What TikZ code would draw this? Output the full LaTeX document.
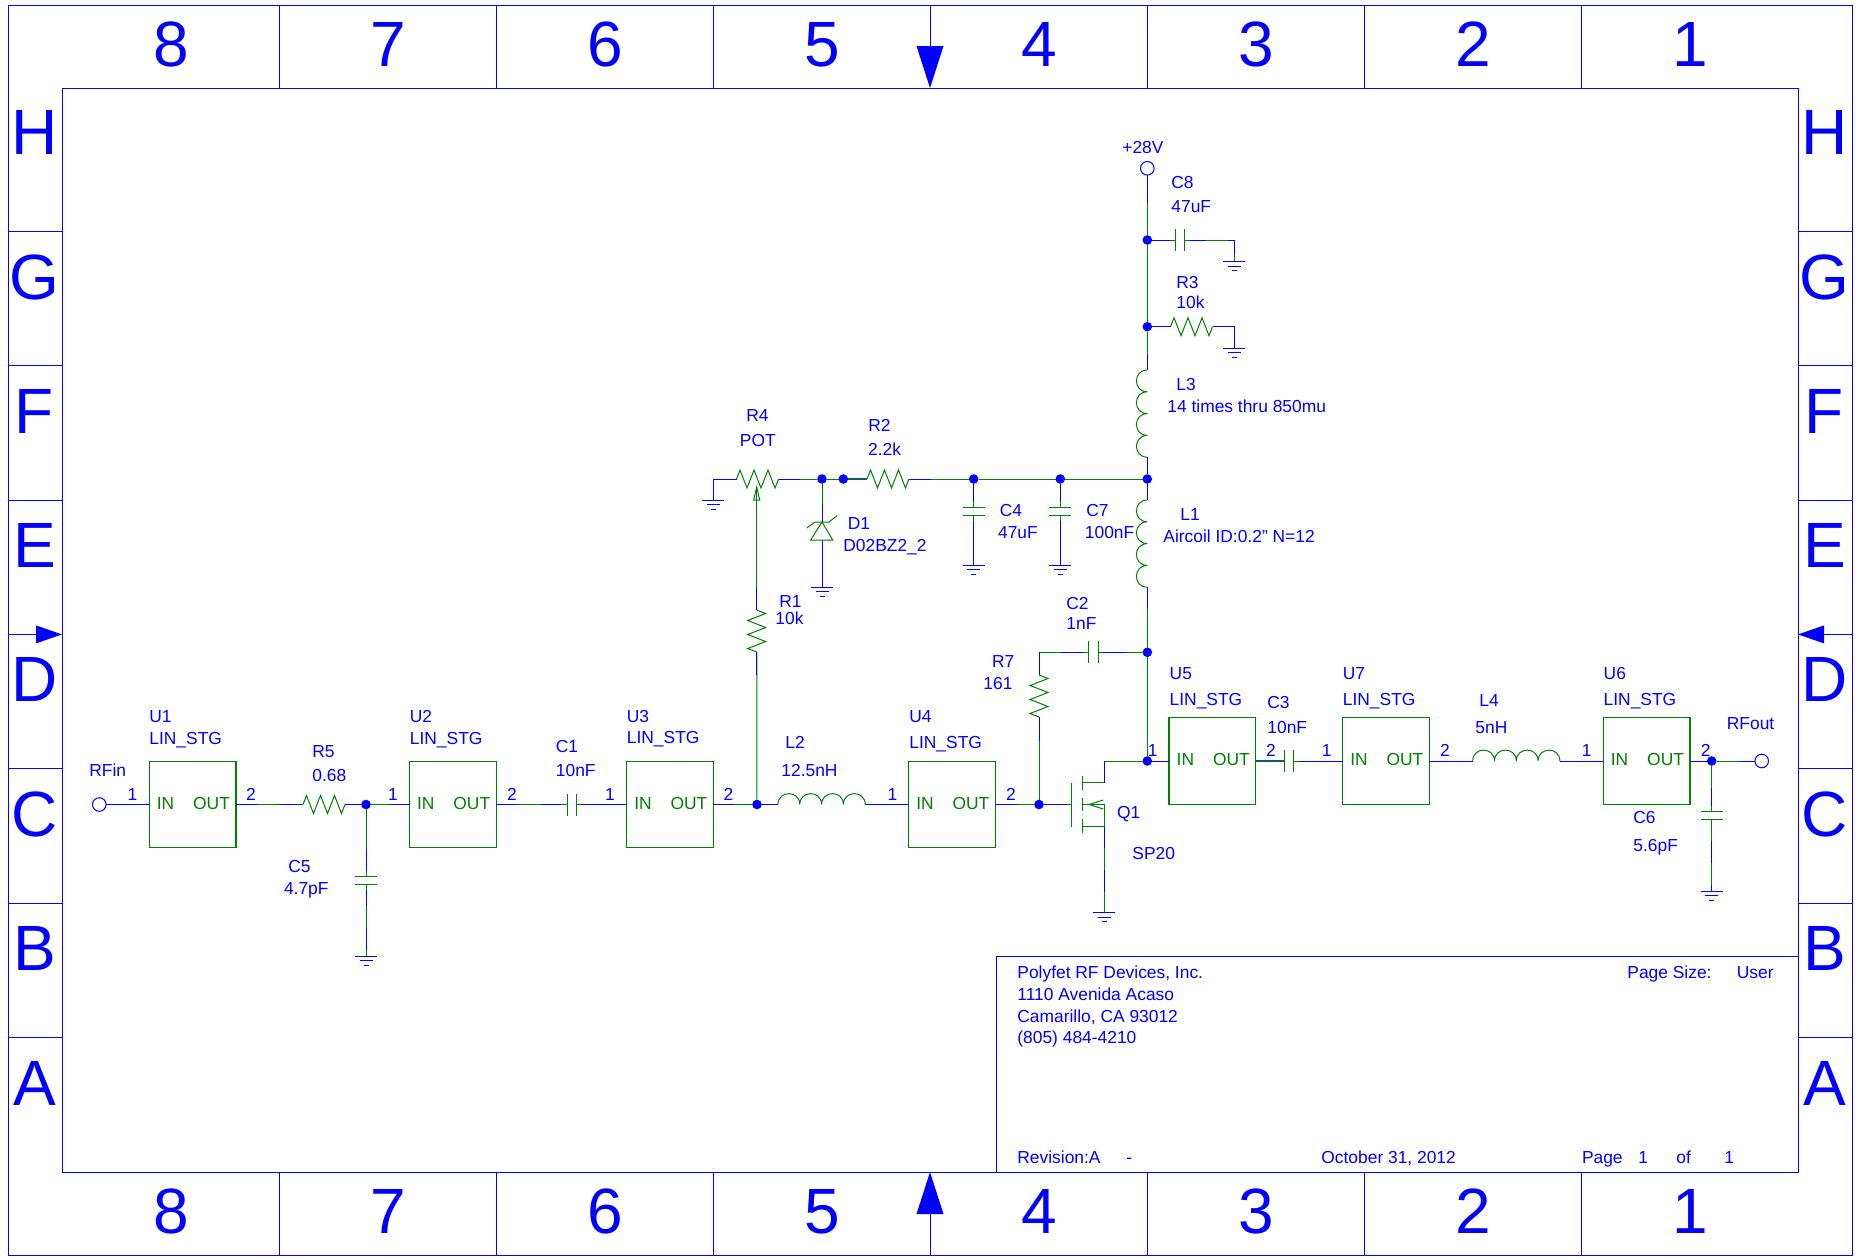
\documentclass[tikz,border=0pt]{standalone}
\usepackage{fontspec}
\setmainfont{Liberation Sans}
\definecolor{grn}{RGB}{0,128,0}
\definecolor{tealw}{RGB}{20,90,110}
\tikzset{
  framel/.style={draw=blue,line width=.5pt},
  tickl/.style={draw=blue,line width=.4pt},
  bwire/.style={draw=blue,line width=.5pt},
  gwire/.style={draw=grn,line width=.5pt},
  twire/.style={draw=tealw,line width=.6pt},
  wire/.style={draw=blue,line width=.5pt,postaction={draw=grn,dash pattern=on 10.85pt off 10.85pt,dash phase=10.85pt}},
  wireg/.style={draw=blue,line width=.5pt,postaction={draw=grn,dash pattern=on 10.85pt off 10.85pt}},
  bfirst/.style={draw=grn,line width=.5pt,postaction={draw=blue,dash pattern=on #1 off 2000pt}},
  gfirst/.style={draw=blue,line width=.5pt,postaction={draw=grn,dash pattern=on #1 off 2000pt}},
  comp/.style={draw=grn,line width=.5pt,line join=miter},
  junc/.style={circle,fill=blue,inner sep=0pt,minimum size=4.8pt,outer sep=0pt},
  term/.style={circle,draw=blue,line width=.5pt,fill=white,inner sep=0pt,minimum size=6.8pt,outer sep=0pt},
  stgbox/.style={rectangle,draw=grn,line width=.55pt,inner sep=0pt,minimum size=43.4pt,outer sep=0pt},
  lbl/.style={anchor=west,inner sep=0pt,text height=6.2pt,text depth=0pt,text=blue,font=\fontsize{8.7pt}{10pt}\selectfont},
  pinl/.style={lbl,anchor=center},
  stgl/.style={lbl,text=grn},
  bigl/.style={anchor=center,inner sep=0pt,text height=22.9pt,text depth=0pt,text=blue,font=\fontsize{32pt}{34pt}\selectfont},
  pics/gnd/.style={code={
    \draw[bwire] (-11,0)--(11,0);
    \draw[bwire] (-6.5,4.5)--(6.5,4.5);
    \draw[bwire] (-2.5,9)--(2.5,9);}},
  pics/resh/.style={code={\draw[comp] (0,0)--(3.5,-9)--(10.5,9)--(17.5,-9)--(24.5,9)--(31.5,-9)--(38.5,9)--(42,0);}},
  pics/resv/.style={code={\draw[comp] (0,0)--(9,3.5)--(-9,10.5)--(9,17.5)--(-9,24.5)--(9,31.5)--(-9,38.5)--(0,42);}},
  pics/coilh/.style={code={\draw[comp] (0,0)
    .. controls (0,-14.5) and (21.8,-14.5) .. (21.8,0)
    .. controls (21.8,-14.5) and (43.6,-14.5) .. (43.6,0)
    .. controls (43.6,-14.5) and (65.4,-14.5) .. (65.4,0)
    .. controls (65.4,-14.5) and (87.2,-14.5) .. (87.2,0);}},
  pics/coilv/.style={code={\draw[comp] (0,0)
    .. controls (-14.5,0) and (-14.5,21.8) .. (0,21.8)
    .. controls (-14.5,21.8) and (-14.5,43.6) .. (0,43.6)
    .. controls (-14.5,43.6) and (-14.5,65.4) .. (0,65.4)
    .. controls (-14.5,65.4) and (-14.5,87.2) .. (0,87.2);}},
  pics/caph/.style={code={
    \draw[comp] (0,-11)--(0,11) (9.3,-11)--(9.3,11) (-5,0)--(0,0) (9.3,0)--(14.3,0);}},
  pics/capv/.style={code={
    \draw[comp] (-11,0)--(11,0) (-11,8.7)--(11,8.7) (0,-5)--(0,0) (0,8.7)--(0,13.7);}},
}
\begin{document}
\begin{tikzpicture}[x=0.5pt,y=-0.5pt]
\useasboundingbox (0,0) rectangle (1860,1259);
% ---- frame
\draw[framel] (8,5.5) rectangle (1852,1255);
\draw[framel] (62,88) rectangle (1798,1172);
\foreach \x in {279,496,713,1147,1364,1581}{
  \draw[tickl] (\x,5.5)--(\x,88);
  \draw[tickl] (\x,1172)--(\x,1255);}
\foreach \y in {231.2,365.6,500,768.8,903.2,1037.6}{
  \draw[tickl] (8,\y)--(62,\y);
  \draw[tickl] (1798,\y)--(1852,\y);}
\draw[tickl] (930,5.5)--(930,46);
\fill[blue] (916.5,46)--(943.5,46)--(930,88)--cycle;
\draw[tickl] (930,1255)--(930,1214);
\fill[blue] (916.5,1214)--(943.5,1214)--(930,1172)--cycle;
\draw[tickl] (8,634.4)--(36,634.4);
\fill[blue] (36,625.4)--(36,643.4)--(62,634.4)--cycle;
\draw[tickl] (1852,634.4)--(1824,634.4);
\fill[blue] (1824,625.4)--(1824,643.4)--(1798,634.4)--cycle;
\draw[framel] (1798,956)--(996,956)--(996,1172);
\foreach \n/\t/\x in {a/8/171,b/7/388,c/6/605,d/5/822,e/4/1039,f/3/1256,g/2/1473,h/1/1690}{
  \node[bigl] (top\n) at (\x,43.5) {\t};
  \node[bigl] (bot\n) at (\x,1211) {\t};}
\foreach \t/\y in {H/132,G/277,F/411,E/545,D/679,C/813.7,B/948,A/1082.5}{
  \node[bigl] (left\t) at (34.5,\y) {\t};
  \node[bigl] (right\t) at (1824.5,\y) {\t};}
% ---- title block
\node[lbl] (tb1) at (1017,972) {Polyfet RF Devices, Inc.};
\node[lbl] (tb2) at (1017,994) {1110 Avenida Acaso};
\node[lbl] (tb3) at (1017,1016) {Camarillo, CA 93012};
\node[lbl] (tb4) at (1017,1037) {(805) 484-4210};
\node[lbl] (tb5) at (1627,972) {Page Size:};
\node[lbl] (tb6) at (1736.5,972) {User};
\node[lbl] (tb7) at (1017,1157) {Revision:A};
\node[lbl] (tb8) at (1126,1157) {-};
\node[lbl] (tb9) at (1321,1157) {October 31, 2012};
\node[lbl] (tb10) at (1581.6,1157) {Page};
\node[lbl] (tb11) at (1638,1157) {1};
\node[lbl] (tb12) at (1676,1157) {of};
\node[lbl] (tb13) at (1724,1157) {1};
% ---- boxes
\node[stgbox] (u1) at (192.6,804.5) {};
\node[stgbox] (u2) at (452.8,804.5) {};
\node[stgbox] (u3) at (670,804.5) {};
\node[stgbox] (u4) at (952,804.5) {};
\node[stgbox] (u5) at (1212.4,761) {};
\node[stgbox] (u7) at (1386,761) {};
\node[stgbox] (u6) at (1646.6,761) {};
\foreach \u/\x/\y in {a/149.3/804.5,b/409.5/804.5,c/626.7/804.5,d/908.7/804.5,e/1169.1/761,f/1342.7/761,g/1603.3/761}{
  \node[stgl] (in\u) at (\x+7.2,\y-1.5) {IN};
  \node[stgl] (out\u) at (\x+43.5,\y-1.5) {OUT};}
% ---- points
\node[term] (rfin) at (99.3,804.5) {};
\node[term] (rfout) at (1761.7,761) {};
\node[term] (v28) at (1147.3,168.3) {};
\node[junc] (j1) at (366,804.5) {};
\node[junc] (j2) at (757,804.5) {};
\node[junc] (j3) at (1039,804.5) {};
\node[junc] (j4) at (1147.3,761) {};
\node[junc] (j5) at (1147.3,652.3) {};
\node[junc] (j6) at (1147.3,479) {};
\node[junc] (j7) at (1060.3,479) {};
\node[junc] (j8) at (973.7,479) {};
\node[junc] (j9) at (843.3,479) {};
\node[junc] (j10) at (822,479) {};
\node[junc] (j11) at (1147.3,326.7) {};
\node[junc] (j12) at (1147.3,240) {};
\node[junc] (j13) at (1711.7,761) {};
\coordinate (r5a) at (303,804.5);  \coordinate (r5b) at (345,804.5);
\coordinate (c1a) at (567.5,804.5); \coordinate (c1b) at (576.8,804.5);
\coordinate (c5a) at (366,876);    \coordinate (c5b) at (366,884.7);
\coordinate (g5) at (366,956);
\coordinate (l2a) at (778,804.5);  \coordinate (l2b) at (865.2,804.5);
\coordinate (r4a) at (736.5,479);  \coordinate (r4b) at (778.5,479);
\coordinate (g4c) at (713,479);    \coordinate (g4) at (713,500);
\coordinate (pot) at (756.7,487);
\coordinate (r1a) at (756.7,610);  \coordinate (r1b) at (756.7,652);
\coordinate (r2a) at (867,479);    \coordinate (r2b) at (909,479);
\coordinate (d1a) at (822,522);    \coordinate (d1b) at (822,540);
\coordinate (gd) at (822,587);
\coordinate (c4a) at (973.7,507);  \coordinate (c4b) at (973.7,515.7);
\coordinate (g4b) at (973.7,565.3);
\coordinate (c7a) at (1060.3,507); \coordinate (c7b) at (1060.3,515.7);
\coordinate (g7) at (1060.3,565.3);
\coordinate (c8a) at (1175.3,240); \coordinate (c8b) at (1184.6,240);
\coordinate (g8c) at (1234.3,240); \coordinate (g8) at (1234.3,261.7);
\coordinate (r3a) at (1170.5,326.7); \coordinate (r3b) at (1212.5,326.7);
\coordinate (g3c) at (1234.3,326.7); \coordinate (g3) at (1234.3,348.3);
\coordinate (l3a) at (1147.3,370); \coordinate (l3b) at (1147.3,457.2);
\coordinate (l1a) at (1147.3,500); \coordinate (l1b) at (1147.3,587.2);
\coordinate (c2a) at (1088.7,652.3); \coordinate (c2b) at (1098,652.3);
\coordinate (r7c) at (1039,652.3);
\coordinate (r7a) at (1039,675);   \coordinate (r7b) at (1039,717);
\coordinate (qg) at (1071.7,804.5);
\coordinate (qdc) at (1104,761);   \coordinate (qd) at (1104,782.7);
\coordinate (qs) at (1104,826.7);  \coordinate (gq) at (1104,912.7);
\coordinate (c3a) at (1284.3,761); \coordinate (c3b) at (1293.6,761);
\coordinate (l4a) at (1472.7,761); \coordinate (l4b) at (1559.9,761);
\coordinate (c6a) at (1711.7,811); \coordinate (c6b) at (1711.7,819.7);
\coordinate (g6) at (1711.7,891.3);
% ---- connectors
\draw[bwire] (rfin)--(u1.west);
\draw[wire] (u1.east)--(r5a);
\draw[bwire] (r5b)--(j1);
\draw[gfirst=10pt] (j1)--(u2.west);
\draw[gfirst=20pt] (j1)--(c5a);
\draw[wire] (c5b)--(g5);
\draw[wire] (u2.east)--(c1a);
\draw[bwire] (c1b)--(u3.west);
\draw[bfirst=10.5pt] (u3.east)--(j2);
\draw[bwire] (j2)--(l2a);
\draw[bwire] (l2b)--(u4.west);
\draw[bwire] (g4)--(g4c)--(r4a);
\draw[wire] (r4b)--(j10);
\draw[gwire] (j10)--(j9);
\draw[twire] (j9)--(r2a);
\draw[bfirst=11pt] (r2b)--(j8);
\draw[gwire] (j8)--(j7);
\draw[gwire] (j7)--(j6);
\draw[gfirst=10pt] (j10)--(d1a);
\draw[bwire] (d1b)--(gd);
\draw[bwire] (j8)--(c4a);
\draw[bwire] (c4b)--(g4b);
\draw[bwire] (j7)--(c7a);
\draw[bwire] (c7b)--(g7);
\draw[gfirst=50pt] (pot)--(r1a);
\draw[bfirst=11.5pt] (r1b)--(j2);
\draw[bwire] (l3b)--(j6);
\draw[bwire] (j6)--(l1a);
\draw[bfirst=11pt] (l1b)--(j5);
\draw[gwire] (j5)--(j4);
\draw[bfirst=14pt] (v28)--(j12);
\draw[gwire] (j12)--(j11);
\draw[gfirst=11pt] (j11)--(l3a);
\draw[bwire] (j12)--(c8a);
\draw[wire] (c8b)--(g8c)--(g8);
\draw[bwire] (j11)--(r3a);
\draw[bwire] (r3b)--(g3c)--(g3);
\draw[bfirst=14pt] (c2b)--(j5);
\draw[bfirst=14pt] (c2a)--(r7c);
\draw[bwire] (r7c)--(r7a);
\draw[bfirst=12pt] (r7b)--(j3);
\draw[bfirst=11pt] (u4.east)--(j3);
\draw[bfirst=11pt] (j3)--(qg);
\draw[gwire] (j4)--(qdc);
\draw[bwire] (qdc)--(qd);
\draw[wire] (qs)--(gq);
\draw[bwire] (j4)--(u5.west);
\draw[twire] (u5.east)--(c3a);
\draw[bwire] (c3b)--(u7.west);
\draw[bwire] (u7.east)--(l4a);
\draw[bwire] (l4b)--(u6.west);
\draw[bwire] (u6.east)--(j13);
\draw[gfirst=11pt] (j13)--(rfout);
\draw[gfirst=11pt] (j13)--(c6a);
\draw[wireg] (c6b)--(g6);
% ---- parts
\pic at (r5a) {resh};
\pic at (r4a) {resh};
\pic at (r2a) {resh};
\pic at (r3a) {resh};
\pic at (r1a) {resv};
\pic at (r7a) {resv};
\pic at (l2a) {coilh};
\pic at (l4a) {coilh};
\pic at (l3a) {coilv};
\pic at (l1a) {coilv};
\pic at (c1a) {caph};
\pic at (c8a) {caph};
\pic at (c2a) {caph};
\pic at (c3a) {caph};
\pic at (c5a) {capv};
\pic at (c4a) {capv};
\pic at (c7a) {capv};
\pic at (c6a) {capv};
\pic at (g5) {gnd};
\pic at (g4) {gnd};
\pic at (gd) {gnd};
\pic at (g4b) {gnd};
\pic at (g7) {gnd};
\pic at (g8) {gnd};
\pic at (g3) {gnd};
\pic at (gq) {gnd};
\pic at (g6) {gnd};
% pot wiper arrow
\draw[comp] (753.7,500)--(pot)--(759.7,500)--cycle;
% zener
\draw[comp] (810.7,540)--(832.7,540)--(d1a)--cycle;
\draw[comp] (806.7,528)--(815,522)--(829,522)--(837,515.7);
% mosfet
\draw[comp] (1071.7,782.7)--(1071.7,826.7);
\draw[comp] (1082.7,776)--(1082.7,790);
\draw[comp] (1082.7,797.7)--(1082.7,811);
\draw[comp] (1082.7,819.3)--(1082.7,832.7);
\draw[comp] (1082.7,782.7)--(qd);
\draw[comp] (1082.7,826.7)--(qs);
\draw[comp] (1082.7,804.5)--(1104,804.5)--(qs);
\draw[comp] (1103.3,800)--(1089,804.5)--(1103.3,809);
% ---- labels
\node[lbl] (tU1) at (149,716) {U1};
\node[lbl] (vU1) at (149,738) {LIN\_STG};
\node[lbl] (tU2) at (409.5,716) {U2};
\node[lbl] (vU2) at (409.5,738) {LIN\_STG};
\node[lbl] (tU3) at (626.5,716) {U3};
\node[lbl] (vU3) at (626.5,737.7) {LIN\_STG};
\node[lbl] (tU4) at (909,716) {U4};
\node[lbl] (vU4) at (909,742) {LIN\_STG};
\node[lbl] (tU5) at (1169.3,673) {U5};
\node[lbl] (vU5) at (1169.3,699) {LIN\_STG};
\node[lbl] (tU7) at (1342.5,673) {U7};
\node[lbl] (vU7) at (1342.5,699) {LIN\_STG};
\node[lbl] (tU6) at (1603.3,673) {U6};
\node[lbl] (vU6) at (1603.3,699) {LIN\_STG};
\node[lbl] (tRfin) at (89,770) {RFin};
\node[lbl] (tRfout) at (1726.5,723) {RFout};
\node[lbl] (tv28) at (1122,147) {+28V};
\node[lbl] (tR5) at (312,751) {R5};
\node[lbl] (vR5) at (312,775) {0.68};
\node[lbl] (tC1) at (555.5,746) {C1};
\node[lbl] (vC1) at (555.5,770) {10nF};
\node[lbl] (tC5) at (288,866) {C5};
\node[lbl] (vC5) at (283.6,888) {4.7pF};
\node[lbl] (tL2) at (785,742) {L2};
\node[lbl] (vL2) at (781,770) {12.5nH};
\node[lbl] (tR4) at (746,415.7) {R4};
\node[lbl] (vR4) at (739.5,440) {POT};
\node[lbl] (tR2) at (868,425) {R2};
\node[lbl] (vR2) at (867.7,449.7) {2.2k};
\node[lbl] (tD1) at (847.5,523) {D1};
\node[lbl] (vD1) at (843,545.7) {D02BZ2\_2};
\node[lbl] (tC4) at (999.5,510) {C4};
\node[lbl] (vC4) at (997.7,532) {47uF};
\node[lbl] (tC7) at (1086,510) {C7};
\node[lbl] (vC7) at (1084.5,532) {100nF};
\node[lbl] (tL1) at (1180,514) {L1};
\node[lbl] (vL1) at (1163,536) {Aircoil ID:0.2" N=12};
\node[lbl] (tR1) at (779,601) {R1};
\node[lbl] (vR1) at (775,618) {10k};
\node[lbl] (tC2) at (1066,603) {C2};
\node[lbl] (vC2) at (1066,623) {1nF};
\node[lbl] (tC8) at (1171,182) {C8};
\node[lbl] (vC8) at (1171,206) {47uF};
\node[lbl] (tR3) at (1176,282) {R3};
\node[lbl] (vR3) at (1176,302) {10k};
\node[lbl] (tL3) at (1176,384) {L3};
\node[lbl] (vL3) at (1167,406.7) {14 times thru 850mu};
\node[lbl] (tR7) at (991.7,661.7) {R7};
\node[lbl] (vR7) at (983,683) {161};
\node[lbl] (tQ1) at (1116.7,812) {Q1};
\node[lbl] (vQ1) at (1132,853) {SP20};
\node[lbl] (tC3) at (1267,702.7) {C3};
\node[lbl] (vC3) at (1267,727.3) {10nF};
\node[lbl] (tL4) at (1479,700) {L4};
\node[lbl] (vL4) at (1475,727.7) {5nH};
\node[lbl] (tC6) at (1633,817.7) {C6};
\node[lbl] (vC6) at (1633,845) {5.6pF};
% pin numbers
\node[pinl] (p1) at (132.5,794) {1};
\node[pinl] (p2) at (251,794) {2};
\node[pinl] (p3) at (393,794) {1};
\node[pinl] (p4) at (512,794) {2};
\node[pinl] (p5) at (610,794) {1};
\node[pinl] (p6) at (728.5,794) {2};
\node[pinl] (p7) at (892.5,794) {1};
\node[pinl] (p8) at (1011,794) {2};
\node[pinl] (p9) at (1152.7,750) {1};
\node[pinl] (p10) at (1271,750) {2};
\node[pinl] (p11) at (1326.7,750) {1};
\node[pinl] (p12) at (1445,750) {2};
\node[pinl] (p13) at (1586.7,750) {1};
\node[pinl] (p14) at (1705.7,750) {2};
\end{tikzpicture}
\end{document}
